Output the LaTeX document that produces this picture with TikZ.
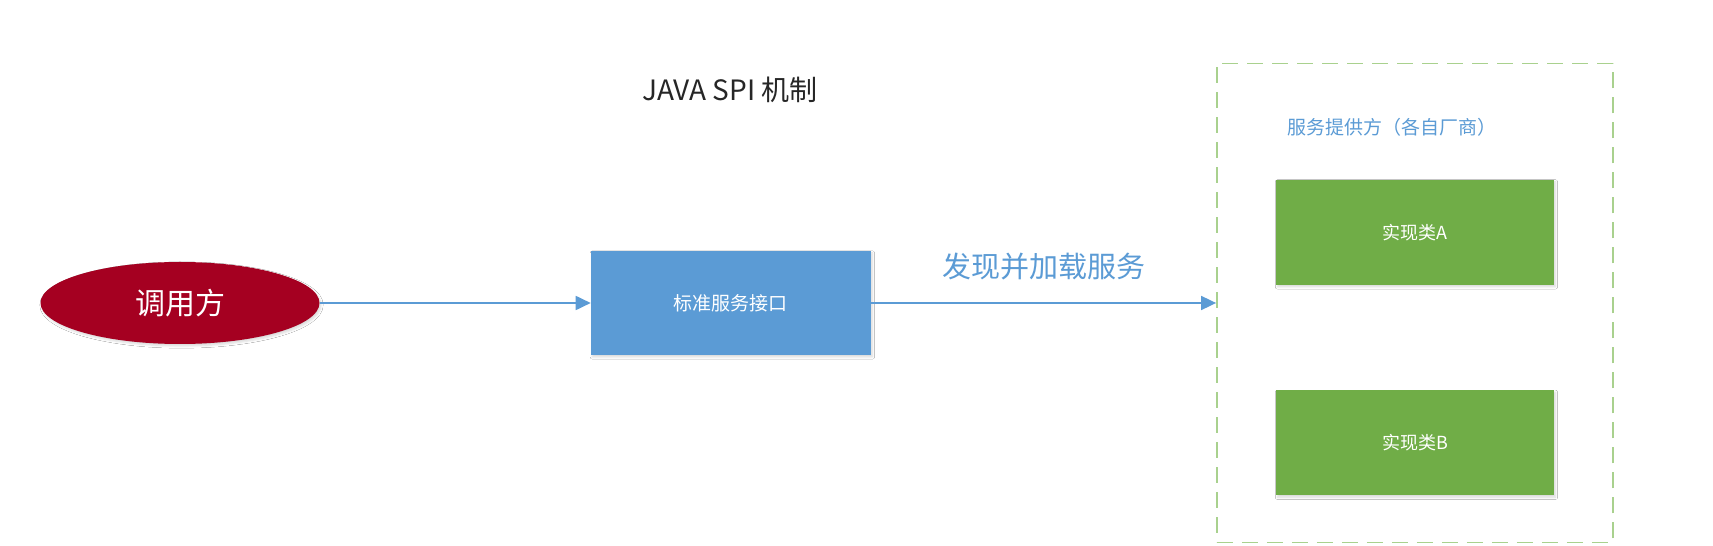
\documentclass[tikz,border=0pt]{standalone}
\usepackage{fontspec}
\setmainfont{Noto Sans CJK SC}
\usepackage{xcolor}
\definecolor{callerRed}{HTML}{A50021}
\definecolor{ifaceBlue}{HTML}{5B9BD5}
\definecolor{implGreen}{HTML}{70AD47}
\definecolor{dashGreen}{HTML}{A9D18E}
\definecolor{lineBlue}{HTML}{5B9BD5}
\definecolor{darkText}{HTML}{262626}
\usepackage{tikz}
\usetikzlibrary{
    shapes.geometric,
    arrows.meta,
    shadows.blur,
    positioning
}
\tikzset{
    % Soft shadow shared by the filled shapes
    soft shadow/.style={
        blur shadow={
            shadow xshift=1.5pt,
            shadow yshift=-2pt,
            shadow blur steps=4,
            shadow opacity=15
        },
    },
    % Caller - dark red ellipse
    caller/.style={
        ellipse,
        fill=callerRed,
        text=white,
        font=\fontsize{30}{35}\selectfont,
        minimum width=279pt,
        minimum height=82pt,
        inner sep=0pt,
        soft shadow,
    },
    % Interface box - flat blue
    iface box/.style={
        rectangle,
        fill=ifaceBlue,
        text=white,
        font=\fontsize{19}{23}\selectfont,
        minimum width=280pt,
        minimum height=104pt,
        inner sep=0pt,
        soft shadow,
    },
    % Implementation boxes - flat green
    impl box/.style={
        rectangle,
        fill=implGreen,
        text=white,
        font=\fontsize{18}{22}\selectfont,
        minimum width=278pt,
        minimum height=105pt,
        inner sep=0pt,
        soft shadow,
    },
    % Provider group - dashed green frame
    provider box/.style={
        rectangle,
        draw=dashGreen,
        line width=1.6pt,
        dash pattern=on 16pt off 9pt,
        minimum width=396pt,
        minimum height=479pt,
        inner sep=0pt,
    },
    % Connector
    link/.style={
        -{Triangle[length=15pt, width=14pt]},
        line width=1.8pt,
        draw=lineBlue,
    },
    % Texts
    title text/.style={
        font=\fontsize{28}{33}\selectfont,
        text=darkText,
        inner sep=0pt,
    },
    flow label/.style={
        font=\fontsize{29}{34}\selectfont,
        text=lineBlue,
        inner sep=0pt,
    },
    provider text/.style={
        font=\fontsize{19}{23}\selectfont,
        text=lineBlue,
        inner sep=0pt,
    },
}

\begin{document}
\begin{tikzpicture}[x=1pt, y=1pt]
    \useasboundingbox [fill=white] (0,0) rectangle (1713,546);

    \node (title) [title text] at (730,456) {JAVA SPI 机制};
    \node (caller) [caller] at (180,243) {调用方};
    \node (iface) [iface box, right=271pt of caller] {标准服务接口};
    \node (provider) [provider box, right=345pt of iface] {};
    \node (provlabel) [provider text, right=71pt of provider.north west, yshift=-65pt] {服务提供方（各自厂商）};
    \node (implA) [impl box, below=117pt of provider.north] {实现类A};
    \node (implB) [impl box, below=105pt of implA] {实现类B};

    \draw [link] (caller) -- (iface);
    \draw [link] (iface) -- node [flow label, midway, above=22pt] {发现并加载服务} (provider);
\end{tikzpicture}
\end{document}
